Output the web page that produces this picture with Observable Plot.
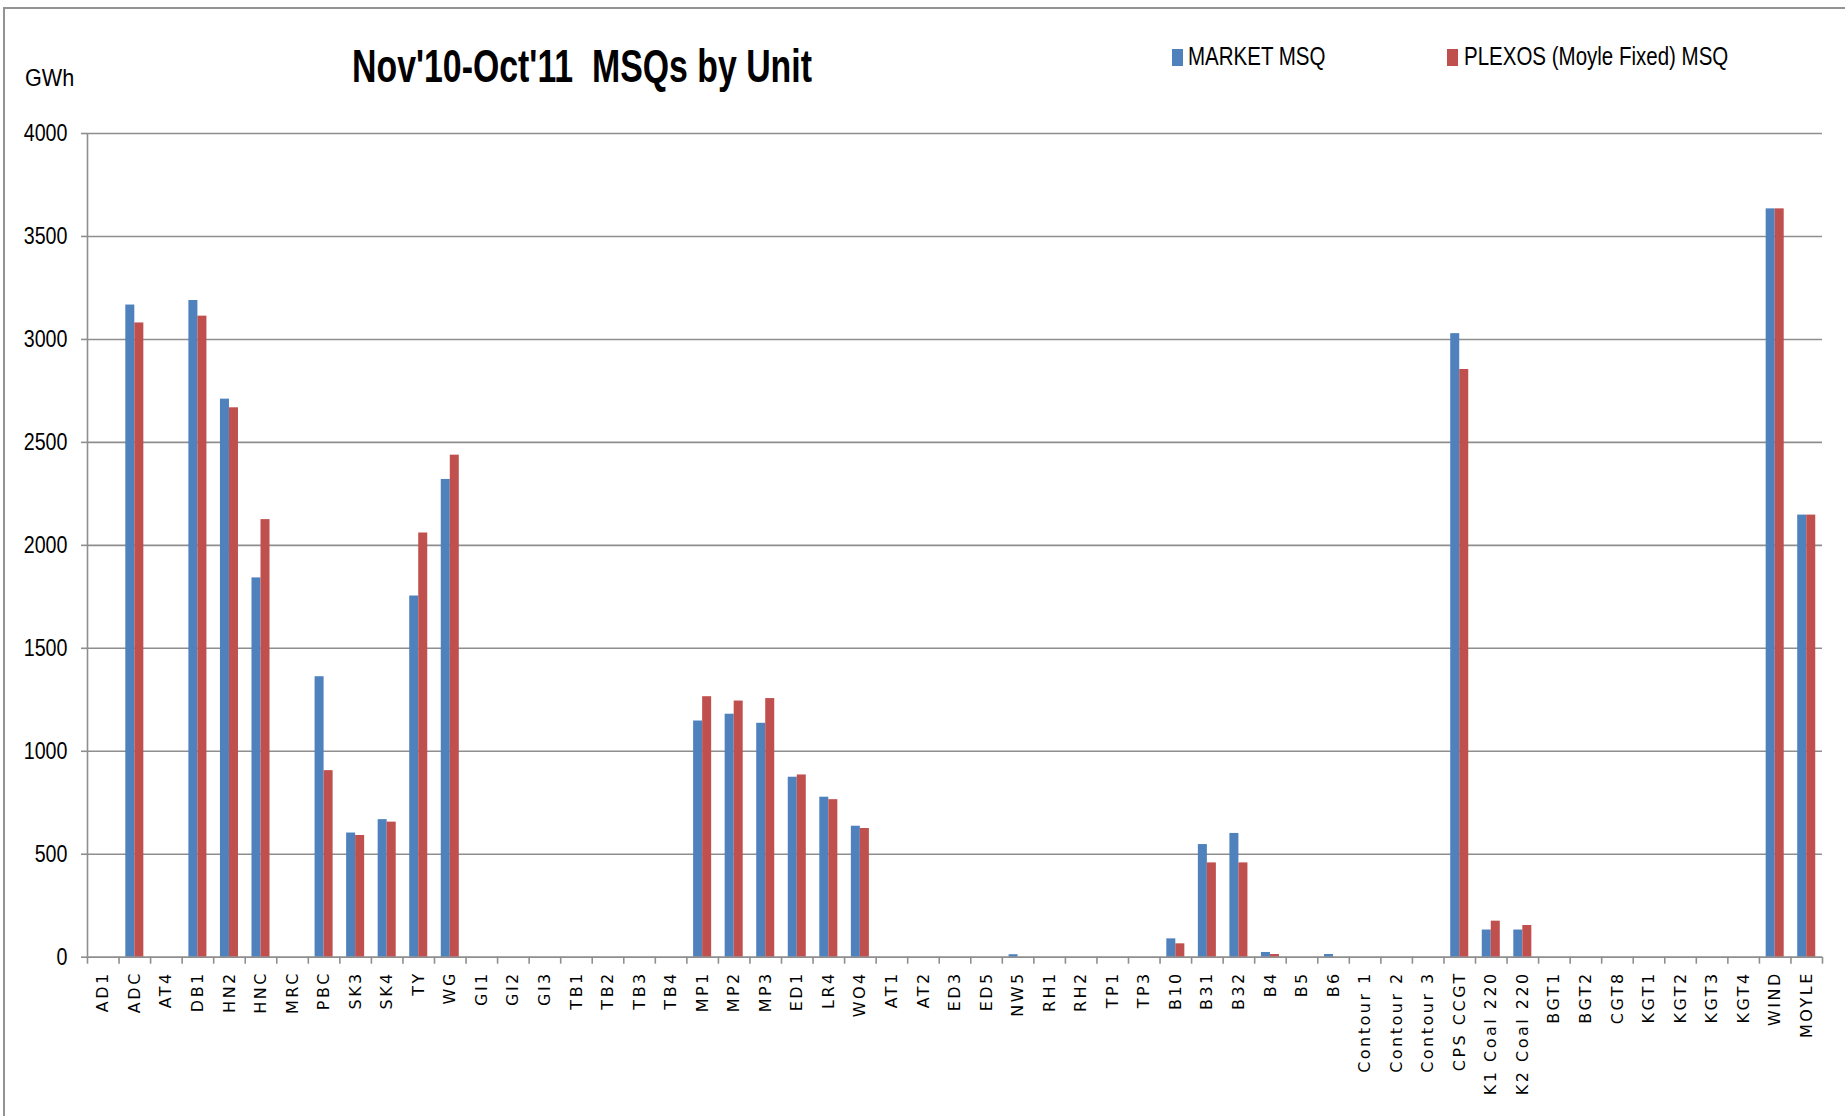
<!DOCTYPE html>
<html><head><meta charset="utf-8">
<script src="https://cdn.jsdelivr.net/npm/d3@7"></script>
<script src="https://cdn.jsdelivr.net/npm/@observablehq/plot@0.6"></script>
<style>
html,body{margin:0;padding:0;background:#fff;}
#wrap{position:relative;width:1845px;height:1116px;overflow:hidden;font-family:"Liberation Sans",Arial,sans-serif;color:#000;}
#frame{position:absolute;left:3px;top:7px;width:1900px;height:1200px;border-left:2px solid #939393;border-top:2px solid #939393;pointer-events:none;}
#header{position:relative;height:110px;}
#title{position:absolute;left:582px;top:42px;transform:translateX(-50%) scaleX(0.72);transform-origin:50% 50%;font-size:47px;font-weight:bold;line-height:1;white-space:nowrap;}
#gwh{position:absolute;left:25px;top:66px;font-size:24px;line-height:1;transform:scaleX(0.9);transform-origin:0 0;}
.leg{position:absolute;top:44px;font-size:25px;line-height:1;white-space:nowrap;transform:scaleX(0.82);transform-origin:0 0;}
.sw{position:absolute;top:49px;width:11px;height:17px;}
#chart svg{display:block;}
g[aria-label="x-axis tick label"] text{font-family:"DejaVu Sans",sans-serif;font-size:16px;letter-spacing:2.5px;}
g[aria-label="y-axis tick label"] text{font-family:"Liberation Sans",Arial,sans-serif;font-size:24px;}
</style>
</head><body>
<div id="wrap">
  <div id="header">
    <div id="title"></div>
    <div id="gwh">GWh</div>
    <div class="sw" style="left:1172px;background:#4F81BD"></div>
    <div class="leg" id="leg1" style="left:1188px"></div>
    <div class="sw" style="left:1447px;background:#C0504D"></div>
    <div class="leg" id="leg2" style="left:1464px"></div>
  </div>
  <div id="chart"></div>
  <div id="frame"></div>
</div>
<script>
const units = ["AD1","ADC","AT4","DB1","HN2","HNC","MRC","PBC","SK3","SK4","TY","WG","GI1","GI2","GI3","TB1","TB2","TB3","TB4","MP1","MP2","MP3","ED1","LR4","WO4","AT1","AT2","ED3","ED5","NW5","RH1","RH2","TP1","TP3","B10","B31","B32","B4","B5","B6","Contour 1","Contour 2","Contour 3","CPS CCGT","K1 Coal 220","K2 Coal 220","BGT1","BGT2","CGT8","KGT1","KGT2","KGT3","KGT4","WIND","MOYLE"];
const marketMSQ = [0,3167,0,3189,2710,1842,0,1362,603,668,1754,2320,0,0,0,0,0,0,0,1147,1180,1136,874,777,636,0,0,0,0,12,0,0,0,0,89,547,601,23,0,13,0,0,0,3028,132,132,0,0,0,0,0,0,0,3634,2147];
const plexosMSQ = [0,3080,0,3113,2668,2125,0,906,591,656,2060,2438,0,0,0,0,0,0,0,1265,1244,1256,885,765,625,0,0,0,0,0,0,0,0,0,65,458,458,13,0,0,0,0,0,2854,175,154,0,0,0,0,0,0,0,3634,2147];
const seriesNames = ["MARKET MSQ","PLEXOS (Moyle Fixed) MSQ"];
const seriesColors = ["#4F81BD","#C0504D"];
const yTicks = [0,500,1000,1500,2000,2500,3000,3500,4000];
const title = "Nov'10-Oct'11\u00a0 MSQs by Unit";

document.getElementById("title").textContent = title;
document.getElementById("leg1").textContent = seriesNames[0];
document.getElementById("leg2").textContent = seriesNames[1];

const market = units.map((u,i)=>({unit:u, series:seriesNames[0], value:marketMSQ[i]}));
const plexos = units.map((u,i)=>({unit:u, series:seriesNames[1], value:plexosMSQ[i]}));

const W = 1845, H = 1006;
const mL = 87, mR = 23, mT = 23, mB = 159.3;
const bw = (W - mL - mR) / units.length;
const s = bw / 3.5;
const gray = "#8e8e8e";

const chart = Plot.plot({
  width: W, height: H,
  marginLeft: mL, marginRight: mR, marginTop: mT, marginBottom: mB,
  style: {fontFamily: '"Liberation Sans",Arial,sans-serif', background: "transparent", color: "#000"},
  x: {domain: units, padding: 0, label: null, axis: null},
  y: {domain: [0, 4000], label: null, axis: null},
  color: {domain: seriesNames, range: seriesColors},
  marks: [
    Plot.gridY(yTicks, {stroke: gray, strokeOpacity: 1, strokeWidth: 1.6}),
    Plot.barY(market, {x: "unit", y: "value", fill: "series", insetLeft: 0.75*s, insetRight: 1.75*s}),
    Plot.barY(plexos, {x: "unit", y: "value", fill: "series", insetLeft: 1.75*s, insetRight: 0.75*s}),
    Plot.ruleY([0], {stroke: gray, strokeWidth: 1.6}),
    Plot.ruleX([units[0]], {y1: 0, y2: 4000, dx: -bw/2, stroke: gray, strokeWidth: 1.6}),
    Plot.axisY(yTicks, {tickSize: 6, tickPadding: 14, fontSize: 24, stroke: gray, strokeWidth: 1.6, fill: "#000", label: null, tickFormat: d => String(d)}),
    Plot.axisX(units, {tickSize: 7, text: null, dx: -bw/2, stroke: gray, strokeWidth: 1.6, label: null}),
    Plot.axisX([units[units.length-1]], {tickSize: 7, text: null, dx: bw/2, stroke: gray, strokeWidth: 1.6, label: null}),
    Plot.axisX(units, {tickSize: 0, tickRotate: -90, tickPadding: 14, fill: "#000", label: null})
  ]
});
// condense the y tick labels horizontally (narrow face), keeping their right edge
chart.querySelectorAll('g[aria-label="y-axis tick label"] text').forEach(t => {
  const tr = t.getAttribute("transform") || "";
  t.setAttribute("transform", tr + " scale(0.82,1)");
});
document.getElementById("chart").appendChild(chart);
</script>
</body></html>
